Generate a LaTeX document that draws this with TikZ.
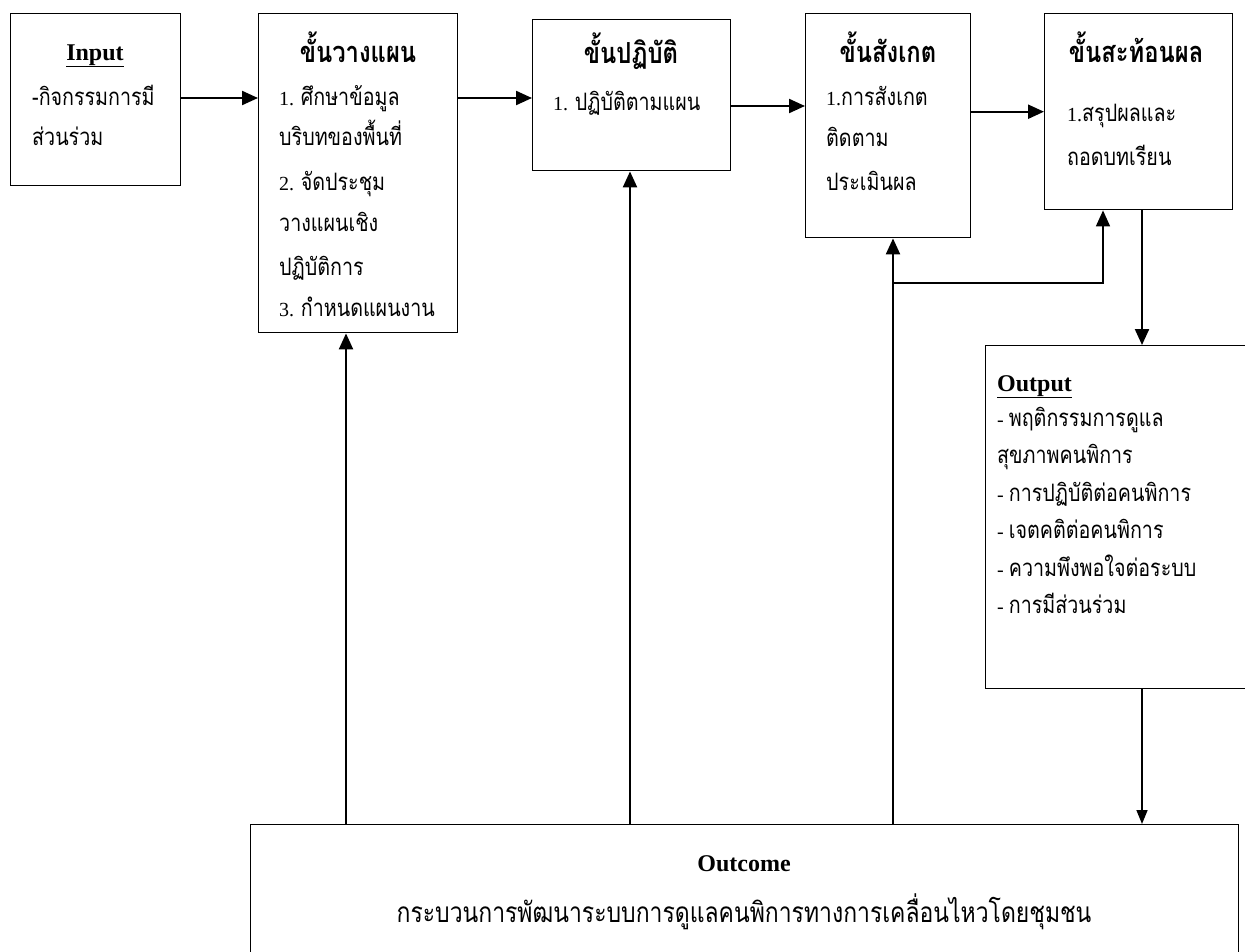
\documentclass[tikz,border=0pt]{standalone}
\usepackage{fontspec}
\setmainfont{Liberation Serif}
\newfontfamily\thai[Script=Thai,FakeStretch=0.82]{Loma}
\usetikzlibrary{arrows.meta,calc}
\newcommand{\nm}[1]{{\rmfamily\fontsize{20}{20}\selectfont #1}}
\tikzset{
  box/.style={draw, line width=1.4pt, inner sep=0pt, anchor=north west},
  arr/.style={line width=2.2pt, -{Triangle[length=16pt,width=14pt]}},
  thinarr/.style={line width=1.6pt, -{Triangle[length=14pt,width=11pt]}},
  ln/.style={line width=1.6pt},
  txt/.style={anchor=base west, inner sep=0pt, font=\thai\fontsize{24}{24}\selectfont},
  ttl/.style={anchor=base, inner sep=0pt, font=\thai\bfseries\fontsize{29}{29}\selectfont},
  lat/.style={inner sep=0pt, font=\rmfamily\bfseries\fontsize{24}{24}\selectfont}
}
\begin{document}
\begin{tikzpicture}[x=1pt,y=-1pt]
\useasboundingbox (0,0) rectangle (1245,951);
\clip (0,0) rectangle (1245,951);
% boxes
\node[box, minimum width=170pt, minimum height=172pt] (in) at (10,13) {};
\node[box, minimum width=199pt, minimum height=319pt] (plan) at (258,13) {};
\node[box, minimum width=198pt, minimum height=151pt] (prac) at (532,19) {};
\node[box, minimum width=165pt, minimum height=224pt] (obs) at (805,13) {};
\node[box, minimum width=188pt, minimum height=196pt] (refl) at (1044,13) {};
\node[box, minimum width=265pt, minimum height=343pt] (out) at (985,345) {};
\node[box, minimum width=988pt, minimum height=140pt] (outc) at (250,824) {};
% input text
\node[lat, anchor=base] (tin) at (95,60) {\underline{Input}};
\node[txt] (in1) at (32,105) {-กิจกรรมการมี};
\node[txt] (in2) at (32,145) {ส่วนร่วม};
% plan text
\node[ttl] (tplan) at (358,62) {ขั้นวางแผน};
\node[txt] (p1) at (279,105) {\nm{1. }ศึกษาข้อมูล};
\node[txt] (p2) at (279,145) {บริบทของพื้นที่};
\node[txt] (p3) at (279,190) {\nm{2. }จัดประชุม};
\node[txt] (p4) at (279,231) {วางแผนเชิง};
\node[txt] (p5) at (279,275) {ปฏิบัติการ};
\node[txt] (p6) at (279,316) {\nm{3. }กำหนดแผนงาน};
% practice text
\node[ttl] (tprac) at (631,63) {ขั้นปฏิบัติ};
\node[txt] (r1) at (553,110) {\nm{1. }ปฏิบัติตามแผน};
% observe text
\node[ttl] (tobs) at (888,62) {ขั้นสังเกต};
\node[txt] (o1) at (826,105) {\nm{1.}การสังเกต};
\node[txt] (o2) at (826,146) {ติดตาม};
\node[txt] (o3) at (826,190) {ประเมินผล};
% reflect text
\node[ttl] (trefl) at (1136,62) {ขั้นสะท้อนผล};
\node[txt] (f1) at (1067,121) {\nm{1.}สรุปผลและ};
\node[txt] (f2) at (1067,165) {ถอดบทเรียน};
% output text
\node[lat, anchor=base west] (tout) at (997,391) {\underline{Output}};
\node[txt] (u1) at (997,426) {\nm{- }พฤติกรรมการดูแล};
\node[txt] (u2) at (997,463) {สุขภาพคนพิการ};
\node[txt] (u3) at (997,501) {\nm{- }การปฏิบัติต่อคนพิการ};
\node[txt] (u4) at (997,538) {\nm{- }เจตคติต่อคนพิการ};
\node[txt] (u5) at (997,576) {\nm{- }ความพึงพอใจต่อระบบ};
\node[txt] (u6) at (997,613) {\nm{- }การมีส่วนร่วม};
% outcome text
\node[lat, anchor=base] (toutc) at (744,871) {Outcome};
\node[txt, anchor=base, font=\thai\fontsize{28}{28}\selectfont] (outc1) at (744,922) {กระบวนการพัฒนาระบบการดูแลคนพิการทางการเคลื่อนไหวโดยชุมชน};
% helper coordinates
\coordinate (xa) at (346,0);
\coordinate (xb) at (630,0);
\coordinate (xc) at (893,0);
\coordinate (xd) at (1103,0);
\coordinate (xe) at (1142,0);
\coordinate (yj) at (0,283);
\coordinate (yp) at (0,106);
\coordinate (yq) at (0,98);
% connectors
\draw[arr] (in.east |- yq) -- (plan.west |- yq);
\draw[arr] (plan.east |- yq) -- (prac.west |- yq);
\draw[arr] (prac.east |- yp) -- (obs.west |- yp);
\draw[arr] (obs.east |- refl.west) -- (refl.west);
\draw[arr] (refl.south -| xe) -- (out.north -| xe);
\draw[thinarr] (out.south -| xe) -- (outc.north -| xe);
\draw[arr] (outc.north -| xa) -- (plan.south -| xa);
\draw[arr] (outc.north -| xb) -- (prac.south -| xb);
\draw[arr] (outc.north -| xc) -- (obs.south -| xc);
\draw[ln, -{Triangle[length=16pt,width=14pt]}] (xc |- yj) -- (xd |- yj) -- (refl.south -| xd);
\end{tikzpicture}
\end{document}
